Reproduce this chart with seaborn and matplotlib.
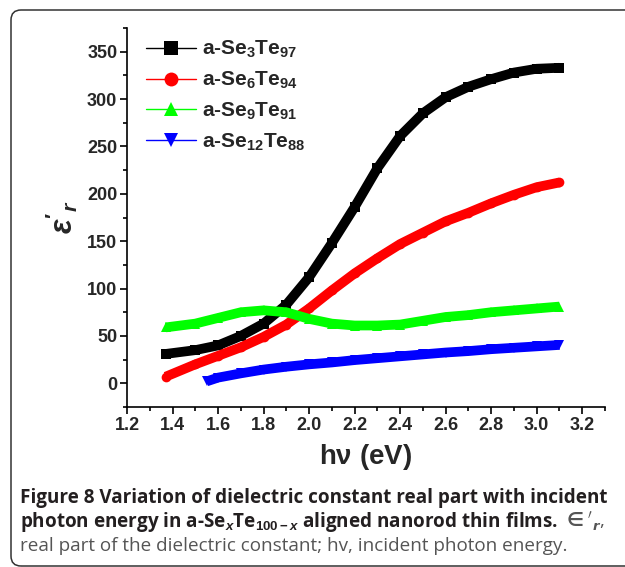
import matplotlib
matplotlib.use("Agg")
import matplotlib.pyplot as plt
import seaborn as sns
from matplotlib.lines import Line2D
from matplotlib.patches import FancyBboxPatch
from matplotlib.transforms import IdentityTransform
from matplotlib.ticker import MultipleLocator

# data
energy = [1.37, 1.5, 1.6, 1.7, 1.8, 1.9, 2.0, 2.1, 2.2, 2.3, 2.4, 2.5, 2.6, 2.7, 2.8, 2.9, 3.0, 3.1]
se3_te97 = [31, 35, 40, 50, 63, 83, 112, 148, 186, 227, 261, 285, 302, 313, 321, 328, 332, 333]
se6_te94 = [7, 20, 29, 38, 49, 62, 79, 98, 116, 132, 147, 159, 171, 180, 190, 199, 207, 212]
se9_te91 = [59, 63, 69, 75, 77, 75, 68, 63, 61, 61, 62, 66, 70, 72, 75, 77, 79, 81]
energy_12 = [1.55, 1.6, 1.7, 1.8, 1.9, 2.0, 2.1, 2.2, 2.3, 2.4, 2.5, 2.6, 2.7, 2.8, 2.9, 3.0, 3.1]
se12_te88 = [2, 6, 10.5, 14.5, 17.5, 20, 22, 24.5, 26.5, 28.5, 30.5, 32.5, 34, 36, 37.5, 39, 40.5]

labels = [r"a-Se$_{3}$Te$_{97}$", r"a-Se$_{6}$Te$_{94}$",
          r"a-Se$_{9}$Te$_{91}$", r"a-Se$_{12}$Te$_{88}$"]
colors = ["#000000", "#ff0000", "#00ff00", "#0000ff"]
markers = ["s", "o", "^", "v"]

sns.set_style("ticks")
plt.rcParams["font.family"] = ["Liberation Sans", "DejaVu Sans"]
plt.rcParams["font.weight"] = "bold"
plt.rcParams["axes.labelweight"] = "bold"
plt.rcParams["mathtext.fontset"] = "custom"
plt.rcParams["mathtext.rm"] = "Liberation Sans:bold"
plt.rcParams["mathtext.bf"] = "Liberation Sans:bold"
plt.rcParams["mathtext.it"] = "Liberation Sans:bold:italic"
plt.rcParams["mathtext.bfit"] = "Liberation Sans:bold:italic"

fig = plt.figure(figsize=(6.25, 5.67), dpi=100)
ax = fig.add_axes([0.2032, 0.2822, 0.7648, 0.6684])

series = [(energy, se3_te97), (energy, se6_te94), (energy, se9_te91), (energy_12, se12_te88)]
for (x, y), c, m in zip(series, colors, markers):
    sns.lineplot(x=x, y=y, ax=ax, color=c, lw=7, marker=m, markersize=7,
                 markeredgewidth=0, sort=False, solid_capstyle="butt")

ax.set_xlim(1.2, 3.3)
ax.set_ylim(-25, 375)
ax.xaxis.set_minor_locator(MultipleLocator(0.1))
ax.yaxis.set_minor_locator(MultipleLocator(25))
ax.set_xticks([1.2, 1.4, 1.6, 1.8, 2.0, 2.2, 2.4, 2.6, 2.8, 3.0, 3.2])
ax.set_yticks([0, 50, 100, 150, 200, 250, 300, 350])
ax.tick_params(which="major", direction="out", length=5, width=1.2, labelsize=13, pad=2, color="black")
ax.tick_params(which="minor", direction="out", length=3, width=1.2, color="black")
for sp in ["left", "bottom"]:
    ax.spines[sp].set_linewidth(1.2)
    ax.spines[sp].set_color("black")
sns.despine(ax=ax)

ax.set_xlabel(r"h$\mathbf{\nu}$ (eV)", fontsize=20, labelpad=6)
ax.set_ylabel(r"$\epsilon'_{r}$", fontsize=22, labelpad=5)

handles = [Line2D([], [], color=c, lw=1, marker=m, markersize=10, markeredgewidth=0)
           for c, m in zip(colors, markers)]
ax.legend(handles, labels, loc="upper left", bbox_to_anchor=(0.0, 1.02), frameon=False,
          fontsize=15, handlelength=2.4, handletextpad=0.3, labelspacing=0.45)

# rounded figure frame
frame = FancyBboxPatch((11, 1), 720, 556, boxstyle="round,pad=0,rounding_size=10",
                       transform=IdentityTransform(), fill=False, ec="#333333", lw=1.1)
fig.add_artist(frame)

# caption
cap = dict(family=["Open Sans", "DejaVu Sans"], fontsize=13.6, color="#231f20")
fig.text(20 / 625, 1 - 503 / 567, "Figure 8 Variation of dielectric constant real part with incident",
         weight="bold", va="baseline", **cap)
t2 = fig.text(20 / 625, 1 - 527 / 567,
              r"photon energy in a-Se$_{\mathbfit{x}}$Te$_{100-\mathbfit{x}}$ aligned nanorod thin films.",
              weight="bold", va="baseline", **cap)
fig.canvas.draw()
bb = t2.get_window_extent()
fig.text((bb.x1 + 5) / 625, 1 - 527 / 567, r"$\in'_r$,", weight="normal", va="baseline",
         math_fontfamily="dejavusans", family=["Open Sans", "DejaVu Sans"], fontsize=13.6, color="#555555")
fig.text(20 / 625, 1 - 551 / 567, "real part of the dielectric constant; hv, incident photon energy.",
         weight="normal", va="baseline", family=["Open Sans", "DejaVu Sans"], fontsize=13.6, color="#555555")

fig.savefig("out.png", dpi=100)
